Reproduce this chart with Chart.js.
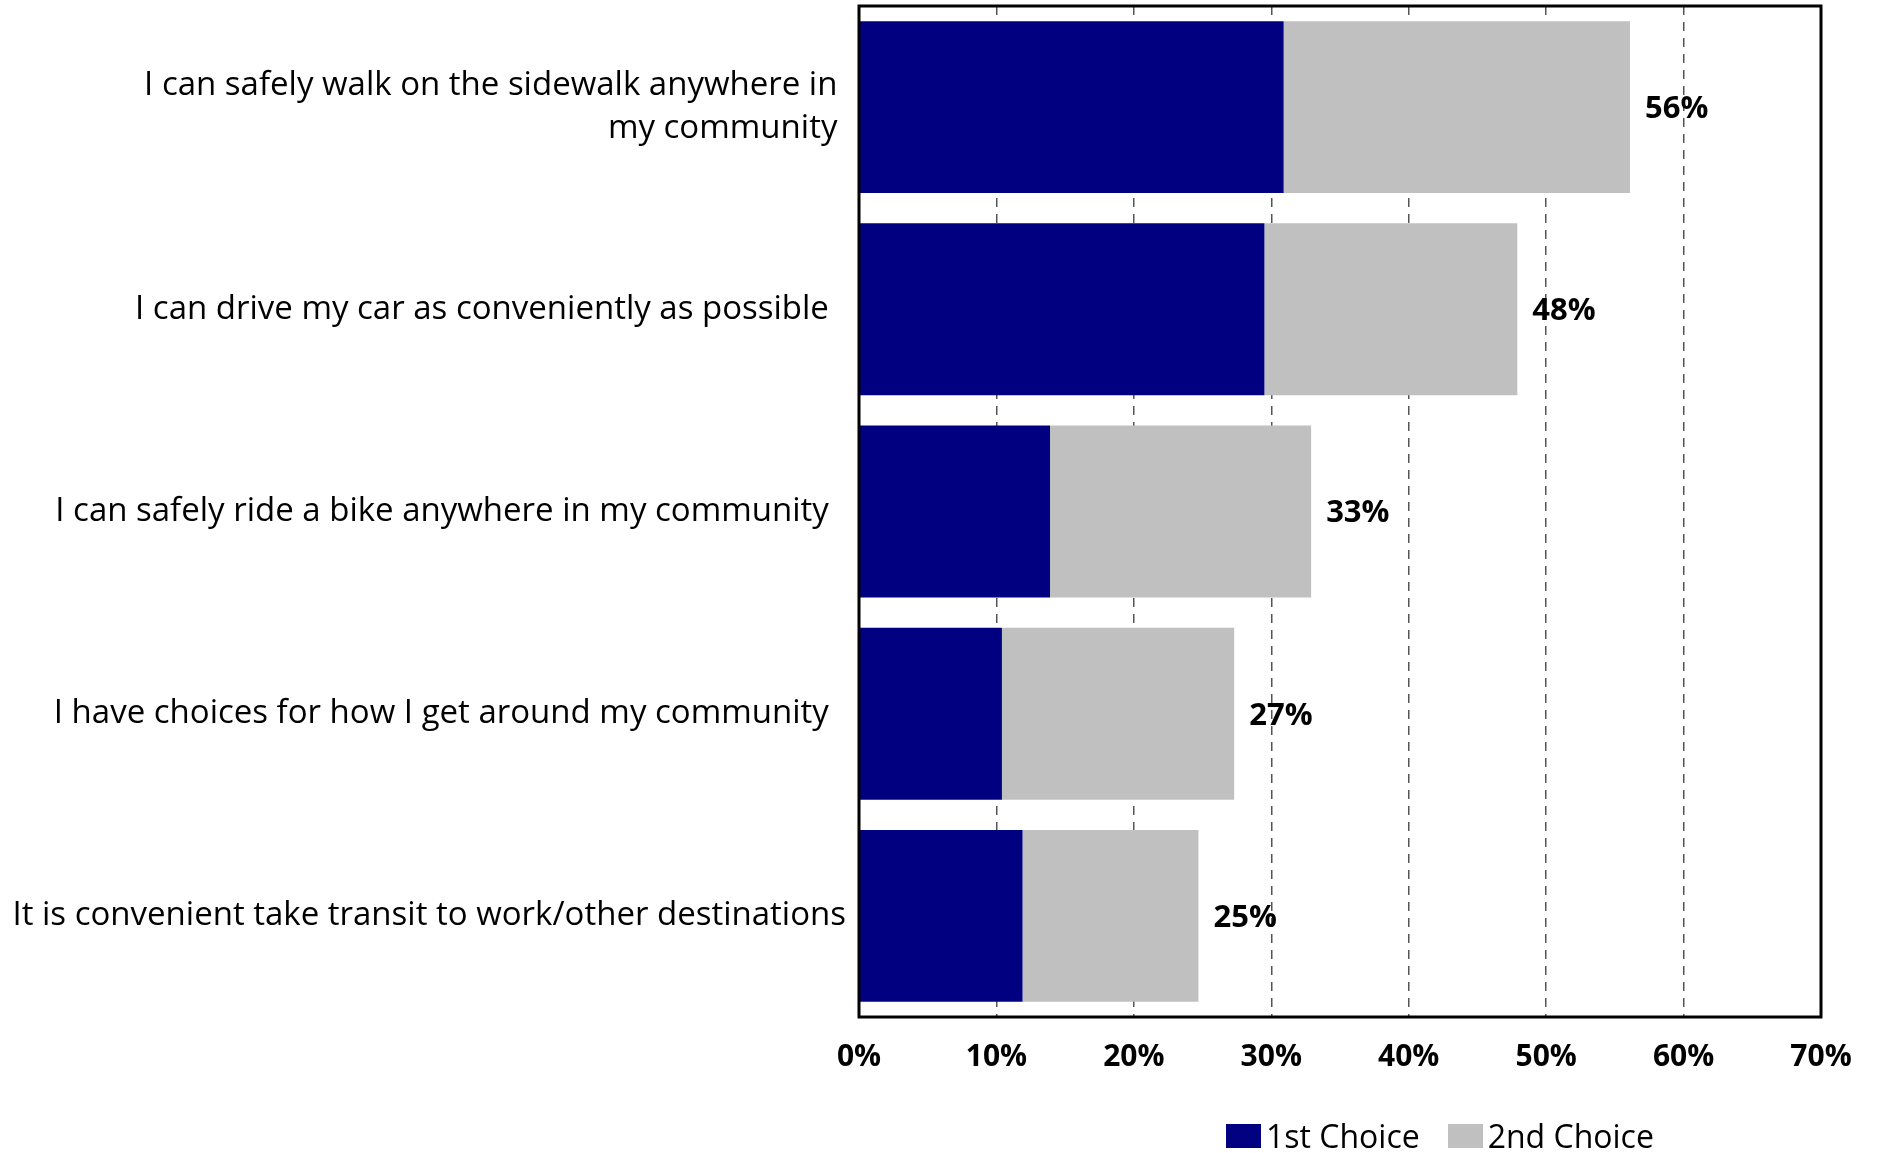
<!DOCTYPE html>
<html>
<head>
<meta charset="utf-8">
<script src="https://cdn.jsdelivr.net/npm/chart.js@4/dist/chart.umd.min.js"></script>
<style>
    html, body { margin: 0; padding: 0; background: #fff; }
    #wrap { position: relative; width: 1877px; height: 1153px; }
    #legend { position: absolute; left: 1226px; top: 1114px; display: flex; align-items: center;
        font-family: 'Open Sans', sans-serif; font-size: 32px; color: #000; }
    #legend span.box { display: inline-block; width: 35px; height: 24px; margin-right: 5px; }
    #legend span.item { display: flex; align-items: center; margin-right: 28px; }
</style>
</head>
<body>
<div id="wrap">
    <canvas id="chart" width="1877" height="1153"></canvas>
    <div id="legend"></div>
</div>
<script>
const categories = [
    ['I can safely walk on the sidewalk anywhere in ', 'my community '],
    'I can drive my car as conveniently as possible  ',
    'I can safely ride a bike anywhere in my community  ',
    'I have choices for how I get around my community  ',
    'It is convenient take transit to work/other destinations'
];
const firstChoice = [30.9, 29.5, 13.9, 10.4, 11.9];
const secondChoice = [25.2, 18.4, 19.0, 16.9, 12.8];
const totalLabels = ['56%', '48%', '33%', '27%', '25%'];
const xTicks = [0, 10, 20, 30, 40, 50, 60, 70];

const NAVY = '#000080';
const GREY = '#c0c0c0';

// outline around plot area + total labels at the end of each bar
const boxAndTotals = {
    id: 'boxAndTotals',
    afterDatasetsDraw(chart) {
        const { ctx, chartArea, scales } = chart;
        const meta = chart.getDatasetMeta(1);
        ctx.save();
        ctx.font = 'bold 31px "Open Sans"';
        ctx.fillStyle = '#000';
        ctx.textBaseline = 'middle';
        ctx.textAlign = 'left';
        meta.data.forEach((bar, i) => {
            const x = scales.x.getPixelForValue(firstChoice[i] + secondChoice[i]);
            ctx.fillText(totalLabels[i], x + 15, bar.y + 2);
        });
        ctx.lineWidth = 3;
        ctx.strokeStyle = '#000';
        ctx.strokeRect(chartArea.left, chartArea.top, chartArea.right - chartArea.left, chartArea.bottom - chartArea.top);
        ctx.restore();
    }
};

const chart = new Chart(document.getElementById('chart'), {
    type: 'bar',
    data: {
        labels: categories,
        datasets: [
            { label: '1st Choice', data: firstChoice, backgroundColor: NAVY },
            { label: '2nd Choice', data: secondChoice, backgroundColor: GREY }
        ]
    },
    options: {
        indexAxis: 'y',
        responsive: false,
        animation: false,
        datasets: { bar: { categoryPercentage: 1, barPercentage: 0.85 } },
        layout: { padding: { top: 6, right: 56, left: 0, bottom: 0 } },
        plugins: { legend: { display: false }, tooltip: { enabled: false } },
        scales: {
            x: {
                stacked: true,
                min: 0,
                max: 70,
                afterBuildTicks: (axis) => { axis.ticks = xTicks.map(v => ({ value: v })); },
                afterFit: (axis) => { axis.height = 136; axis.paddingLeft = 0; axis.paddingRight = 0; },
                grid: { color: '#555', lineWidth: 1.5, drawTicks: false },
                border: { display: false, dash: [9, 7] },
                ticks: {
                    padding: 22,
                    color: '#000',
                    font: { family: 'Open Sans', size: 30, weight: 'bold' },
                    callback: (v) => v + '%'
                }
            },
            y: {
                stacked: true,
                afterFit: (axis) => { axis.width = 859; axis.paddingTop = 0; axis.paddingBottom = 0; },
                grid: { display: false },
                border: { display: false },
                ticks: {
                    padding: 5,
                    color: '#000',
                    font: { family: 'Open Sans', size: 33, lineHeight: 1.33 }
                }
            }
        }
    },
    plugins: [boxAndTotals]
});

const legendEl = document.getElementById('legend');
chart.data.datasets.forEach(ds => {
    const item = document.createElement('span');
    item.className = 'item';
    item.innerHTML = '<span class="box" style="background:' + ds.backgroundColor + '"></span>' + ds.label;
    legendEl.appendChild(item);
});
</script>
</body>
</html>
